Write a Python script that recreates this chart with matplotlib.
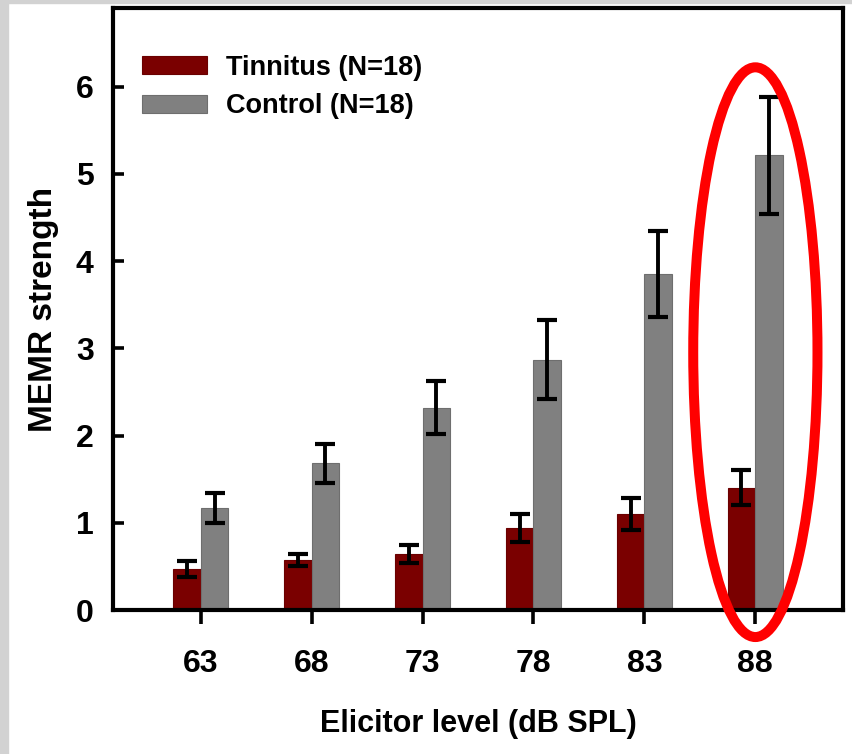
import numpy as np
import matplotlib.pyplot as plt
from matplotlib.patches import Ellipse, Rectangle

plt.rcParams['font.family'] = ['Liberation Sans', 'DejaVu Sans']

# MEMR strength by elicitor level
levels = ['63', '68', '73', '78', '83', '88']
tinnitus = [0.47, 0.57, 0.64, 0.94, 1.10, 1.40]
tinnitus_err = [0.09, 0.07, 0.10, 0.16, 0.18, 0.20]
control = [1.17, 1.68, 2.32, 2.87, 3.85, 5.21]
control_err = [0.17, 0.22, 0.30, 0.45, 0.49, 0.67]

fig = plt.figure(figsize=(8.52, 7.54), dpi=100)
# grey strips at the edges of the slide
fig.patches.append(Rectangle((0, 0), 8 / 852, 1, transform=fig.transFigure,
                             color='#d2d2d2', zorder=0))
fig.patches.append(Rectangle((0, 1 - 3 / 754), 1, 3 / 754, transform=fig.transFigure,
                             color='#d2d2d2', zorder=0))

ax = fig.add_axes([113 / 852, 144 / 754, 730 / 852, 602 / 754])

x = np.arange(len(levels))
w = 0.25
err_kw = dict(elinewidth=2.8, capthick=3, capsize=7.5, ecolor='black')
ax.bar(x - w / 2, tinnitus, w, yerr=tinnitus_err, color='#7a0000', edgecolor='#6a0000',
       linewidth=0.8, error_kw=err_kw, label='Tinnitus (N=18)')
ax.bar(x + w / 2, control, w, yerr=control_err, color='#808080', edgecolor='#6e6e6e',
       linewidth=0.8, error_kw=err_kw, label='Control (N=18)')

ax.set_xlim(-0.79, 5.79)
ax.set_ylim(0, 6.9)
ax.set_xticks(x)
ax.set_xticklabels(levels)
ax.set_yticks(range(7))

for s in ax.spines.values():
    s.set_linewidth(3)
ax.tick_params(axis='x', direction='out', length=10, width=2.6, pad=18, labelsize=23)
ax.tick_params(axis='y', direction='in', length=8, width=2.6, pad=14, labelsize=23)
for lab in ax.get_xticklabels() + ax.get_yticklabels():
    lab.set_fontweight('bold')

ax.set_xlabel('Elicitor level (dB SPL)', fontsize=22, fontweight='bold', labelpad=22)
ax.set_ylabel('MEMR strength', fontsize=24, fontweight='bold', labelpad=12)

ax.legend(loc='upper left', bbox_to_anchor=(0.0397, 0.922), frameon=False,
          prop=dict(size=19.5, weight='bold'),
          handlelength=2.4, handleheight=0.65, handletextpad=0.72, labelspacing=0.46,
          borderaxespad=0, borderpad=0)

# highlight for the loudest level
ax.add_patch(Ellipse((5.0, 2.955), 1.12, 6.53, fill=False, edgecolor='#ff0000',
                     linewidth=7.2, clip_on=False, zorder=5))

fig.savefig('out.png', dpi=100)
